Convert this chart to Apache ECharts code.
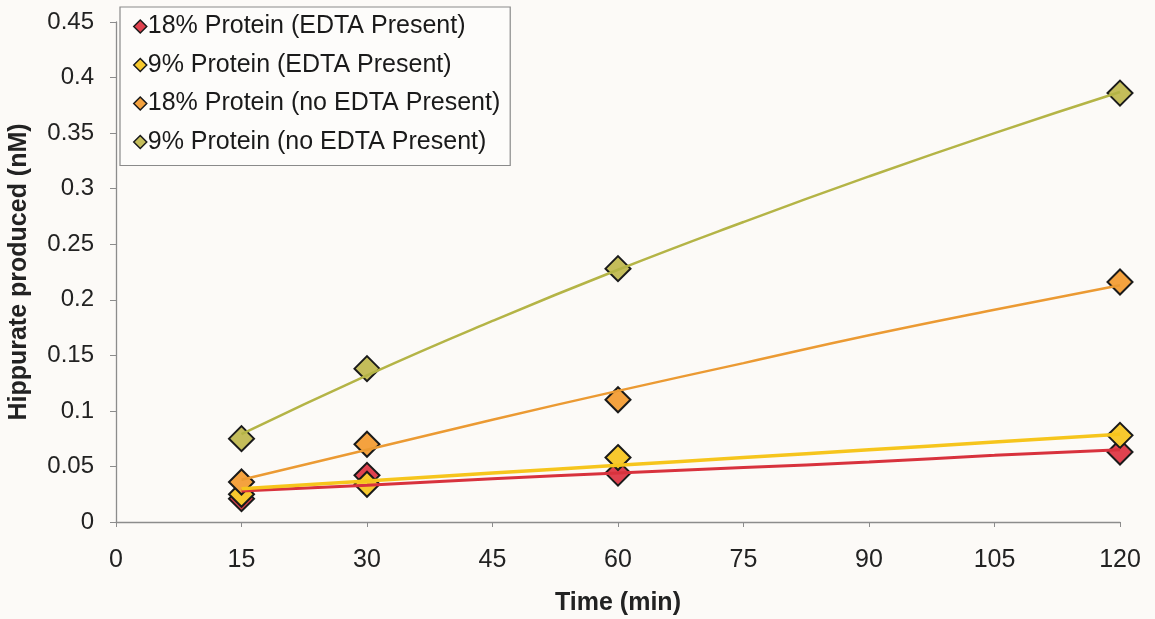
<!DOCTYPE html>
<html>
<head>
<meta charset="utf-8">
<title>Hippurate produced over time</title>
<script src="https://cdn.jsdelivr.net/npm/echarts@6/dist/echarts.min.js"></script>
<style>
  html, body { margin: 0; padding: 0; background: #fcfaf7; }
  #chart { width: 1155px; height: 619px; }
</style>
</head>
<body>
<div id="chart"></div>
<script>
// Sampling times (min)
const times = [15, 30, 60, 120];

// Measured hippurate (nM) for each condition
const protein18Edta   = [0.021, 0.042, 0.044, 0.063];
const protein9Edta    = [0.025, 0.034, 0.058, 0.078];
const protein18NoEdta = [0.036, 0.070, 0.110, 0.216];
const protein9NoEdta  = [0.075, 0.138, 0.228, 0.386];

// Trendline readings across the time range
const trendTimes = [15, 30, 45, 60, 75, 90, 105, 120];
const trend18Edta   = [0.028, 0.033, 0.039, 0.044, 0.049, 0.054, 0.060, 0.065];
const trend9Edta    = [0.030, 0.037, 0.044, 0.051, 0.058, 0.065, 0.072, 0.079];
const trend18NoEdta = [0.038, 0.065, 0.092, 0.118, 0.143, 0.168, 0.191, 0.213];
const trend9NoEdta  = [0.079, 0.132, 0.181, 0.227, 0.270, 0.311, 0.350, 0.387];

const seriesNames = [
  '18% Protein (EDTA Present)',
  '9% Protein (EDTA Present)',
  '18% Protein (no EDTA Present)',
  '9% Protein (no EDTA Present)'
];

const markerColors = ['#e0424f', '#f7c92e', '#f4a23f', '#c4bd5a'];
const lineColors   = ['#d8323d', '#f6c51c', '#eb9a33', '#b4b446'];
const lineWidths   = [3, 3.5, 2.5, 2.5];

const pointSets = [protein18Edta, protein9Edta, protein18NoEdta, protein9NoEdta];
const trendSets = [trend18Edta, trend9Edta, trend18NoEdta, trend9NoEdta];

const pair = (xs, ys) => xs.map((x, i) => [x, ys[i]]);

const series = [];
pointSets.forEach((vals, i) => {
  series.push({
    name: seriesNames[i],
    type: 'scatter',
    symbol: 'diamond',
    symbolSize: 25,
    z: 2 + i,
    data: pair(times, vals),
    itemStyle: { color: markerColors[i], borderColor: '#1a1a1a', borderWidth: 2, opacity: 1 }
  });
});
trendSets.forEach((vals, i) => {
  series.push({
    name: 'trend ' + seriesNames[i],
    type: 'line',
    smooth: true,
    symbol: 'none',
    z: 10,
    data: pair(trendTimes, vals),
    lineStyle: { color: lineColors[i], width: lineWidths[i] },
    itemStyle: { color: lineColors[i] },
    silent: true
  });
});

const FONT = 'Liberation Sans, Arial, sans-serif';

const chart = echarts.init(document.getElementById('chart'), null, { renderer: 'canvas' });
chart.setOption({
  backgroundColor: '#fcfaf7',
  animation: false,
  grid: { left: 116, right: 35, top: 22, bottom: 97, containLabel: false, outerBoundsMode: 'none' },
  legend: {
    data: seriesNames,
    orient: 'vertical',
    left: 120,
    top: 7,
    padding: [7, 10, 11, 13],
    itemGap: 13.5,
    itemWidth: 13,
    itemHeight: 13,
    icon: 'diamond',
    backgroundColor: '#fdfcfa',
    borderColor: '#8a8a8a',
    borderWidth: 1.2,
    itemStyle: { borderColor: '#1a1a1a', borderWidth: 1.5 },
    textStyle: { fontFamily: FONT, fontSize: 25, color: '#1a1a1a', padding: [0, 0, 0, -4] }
  },
  xAxis: {
    type: 'value',
    min: 0,
    max: 120,
    interval: 15,
    name: 'Time (min)',
    nameLocation: 'middle',
    nameGap: 69,
    nameTextStyle: { fontFamily: FONT, fontSize: 25, fontWeight: 'bold', color: '#222' },
    axisLine: { lineStyle: { color: '#8c8c8c', width: 1.3 } },
    axisTick: { show: true, inside: false, length: 5, lineStyle: { color: '#8c8c8c' } },
    axisLabel: { margin: 26, fontFamily: FONT, fontSize: 25, color: '#222' },
    splitLine: { show: false }
  },
  yAxis: {
    type: 'value',
    min: 0,
    max: 0.45,
    interval: 0.05,
    name: 'Hippurate produced (nM)',
    nameLocation: 'middle',
    nameGap: 84,
    nameTextStyle: { fontFamily: FONT, fontSize: 25, fontWeight: 'bold', color: '#222' },
    axisLine: { show: true, lineStyle: { color: '#8c8c8c', width: 1.3 } },
    axisTick: { show: true, inside: false, length: 6, lineStyle: { color: '#8c8c8c' } },
    axisLabel: {
      margin: 22,
      fontFamily: FONT,
      fontSize: 24,
      color: '#222',
      formatter: v => String(parseFloat(v.toFixed(2)))
    },
    splitLine: { show: false }
  },
  series: series
});
</script>
</body>
</html>
